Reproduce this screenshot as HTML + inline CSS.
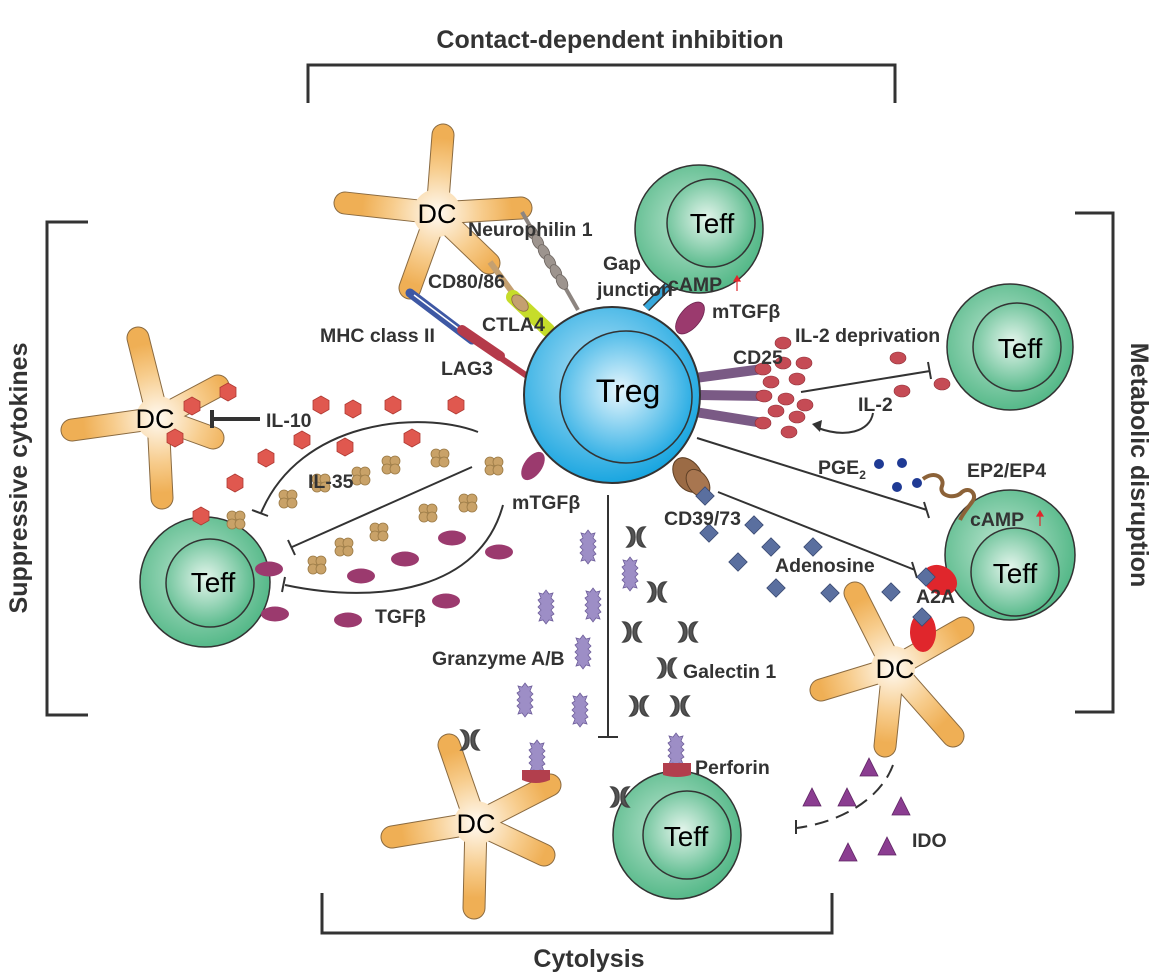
<!DOCTYPE html>
<html><head><meta charset="utf-8"><style>
html,body{margin:0;padding:0;background:#fff}
svg{display:block}
.b{font-family:"Liberation Sans",sans-serif;font-weight:bold;fill:#333;font-size:19.5px}
.n{font-family:"Liberation Sans",sans-serif;fill:#000}
</style></head><body>
<svg width="1160" height="978" viewBox="0 0 1160 978" xmlns="http://www.w3.org/2000/svg">
<defs>
<radialGradient id="dcg" cx="0" cy="0" r="75" gradientUnits="userSpaceOnUse">
<stop offset="0" stop-color="#fffaf2"/><stop offset="0.6" stop-color="#f7cc8c"/><stop offset="1" stop-color="#efaf55"/></radialGradient>
<radialGradient id="tg" cx="0.45" cy="0.45" r="0.6"><stop offset="0" stop-color="#bfe6d2"/><stop offset="1" stop-color="#4db583"/></radialGradient>
<radialGradient id="ti" cx="0.45" cy="0.45" r="0.6"><stop offset="0" stop-color="#e4f5ec"/><stop offset="1" stop-color="#4fb685"/></radialGradient>
<radialGradient id="rg" cx="0.45" cy="0.4" r="0.6"><stop offset="0" stop-color="#bfe6f8"/><stop offset="1" stop-color="#1aa6e0"/></radialGradient>
<radialGradient id="ri" cx="0.45" cy="0.45" r="0.6"><stop offset="0" stop-color="#e6f6fd"/><stop offset="1" stop-color="#1ea8e2"/></radialGradient>
<g id="hex"><polygon points="0,-9 8,-4.5 8,4.5 0,9 -8,4.5 -8,-4.5" fill="#e0584f" stroke="#b03a33" stroke-width="0.8"/></g>
<g id="tan"><g fill="#c9a268" stroke="#9b7a45" stroke-width="0.8"><circle cx="-4" cy="-4" r="5"/><circle cx="4" cy="-4" r="5"/><circle cx="-4" cy="4" r="5"/><circle cx="4" cy="4" r="5"/></g></g>
<g id="tgf"><ellipse rx="14" ry="7.5" fill="#9b3a6e"/></g>
<g id="il2"><ellipse rx="8" ry="6" fill="#c54b55" stroke="#8e2e36" stroke-width="0.6"/></g>
<g id="dia"><rect x="-6.5" y="-6.5" width="13" height="13" transform="rotate(45)" fill="#5a6f9f" stroke="#3a4a72" stroke-width="0.8"/></g>
<g id="gal"><path d="M-9,-10 Q0,0 -9,10 Q-1,10 -1,0 Q-1,-10 -9,-10Z M9,-10 Q0,0 9,10 Q1,10 1,0 Q1,-10 9,-10Z" fill="#555" stroke="#444" stroke-width="1.5"/></g>
<g id="grz"><polygon points="0,-17 3,-13 7,-14 5,-9 8,-6 5,-3 8,0 5,3 8,7 5,9 7,14 3,13 0,17 -3,13 -7,14 -5,9 -8,6 -5,3 -8,0 -5,-3 -8,-7 -5,-9 -7,-14 -3,-13" fill="#9d8ec6" stroke="#6e5e9a" stroke-width="0.8"/></g>
<g id="tri"><polygon points="0,-10 9,8 -9,8" fill="#8b3d91" stroke="#5e2463" stroke-width="0.8"/></g>
</defs>

<!-- brackets -->
<g fill="none" stroke="#333" stroke-width="3">
<path d="M308,103 V65 H895 V103"/>
<path d="M88,222 H47 V715 H88"/>
<path d="M1075,213 H1113 V712 H1075"/>
<path d="M322,893 V933 H832 V893"/>
</g>
<text class="b" x="610" y="48" text-anchor="middle" style="font-size:25px">Contact-dependent inhibition</text>
<text class="b" x="589" y="967" text-anchor="middle" style="font-size:25px">Cytolysis</text>
<text class="b" transform="translate(27,478) rotate(-90)" text-anchor="middle" style="font-size:25px">Suppressive cytokines</text>
<text class="b" transform="translate(1131,465) rotate(90)" text-anchor="middle" style="font-size:25px">Metabolic disruption</text>

<!-- DCs -->
<g transform="translate(437,213)">
<g stroke="#8a6a40" stroke-width="23" stroke-linecap="round" fill="none">
<path d="M0,0 L6,-78"/><path d="M0,0 L-92,-10"/><path d="M0,0 L84,-5"/><path d="M0,0 L52,50"/><path d="M0,0 L-27,75"/></g>
<g stroke="url(#dcg)" stroke-width="21" stroke-linecap="round" fill="none">
<path d="M0,0 L6,-78"/><path d="M0,0 L-92,-10"/><path d="M0,0 L84,-5"/><path d="M0,0 L52,50"/><path d="M0,0 L-27,75"/></g>
<circle r="24" fill="url(#dcg)"/>
<text class="n" x="0" y="10" text-anchor="middle" font-size="27">DC</text></g>

<g transform="translate(158,418)">
<g stroke="#8a6a40" stroke-width="23" stroke-linecap="round" fill="none">
<path d="M0,0 L-20,-80"/><path d="M0,0 L-86,12"/><path d="M0,0 L60,-32"/><path d="M0,0 L55,20"/><path d="M0,0 L4,80"/></g>
<g stroke="url(#dcg)" stroke-width="21" stroke-linecap="round" fill="none">
<path d="M0,0 L-20,-80"/><path d="M0,0 L-86,12"/><path d="M0,0 L60,-32"/><path d="M0,0 L55,20"/><path d="M0,0 L4,80"/></g>
<circle r="22" fill="url(#dcg)"/>
<text class="n" x="-3" y="10" text-anchor="middle" font-size="27">DC</text></g>

<g transform="translate(893,668)">
<g stroke="#8a6a40" stroke-width="23" stroke-linecap="round" fill="none">
<path d="M0,0 L-38,-75"/><path d="M0,0 L70,-40"/><path d="M0,0 L60,68"/><path d="M0,0 L-8,78"/><path d="M0,0 L-72,22"/></g>
<g stroke="url(#dcg)" stroke-width="21" stroke-linecap="round" fill="none">
<path d="M0,0 L-38,-75"/><path d="M0,0 L70,-40"/><path d="M0,0 L60,68"/><path d="M0,0 L-8,78"/><path d="M0,0 L-72,22"/></g>
<circle r="22" fill="url(#dcg)"/>
<text class="n" x="2" y="10" text-anchor="middle" font-size="27">DC</text></g>

<g transform="translate(476,823)">
<g stroke="#8a6a40" stroke-width="23" stroke-linecap="round" fill="none">
<path d="M0,0 L-27,-78"/><path d="M0,0 L74,-38"/><path d="M0,0 L-84,14"/><path d="M0,0 L68,32"/><path d="M0,0 L-2,85"/></g>
<g stroke="url(#dcg)" stroke-width="21" stroke-linecap="round" fill="none">
<path d="M0,0 L-27,-78"/><path d="M0,0 L74,-38"/><path d="M0,0 L-84,14"/><path d="M0,0 L68,32"/><path d="M0,0 L-2,85"/></g>
<circle r="22" fill="url(#dcg)"/>
<text class="n" x="0" y="10" text-anchor="middle" font-size="27">DC</text></g>

<!-- receptors top-left -->
<line x1="522" y1="212" x2="578" y2="310" stroke="#8d8580" stroke-width="4"/>
<g fill="#9d948e" stroke="#6d6560" stroke-width="0.8">
<ellipse cx="532" cy="232" rx="8" ry="5" transform="rotate(60 532 232)"/>
<ellipse cx="538" cy="242" rx="8" ry="5" transform="rotate(60 538 242)"/>
<ellipse cx="544" cy="252" rx="8" ry="5" transform="rotate(60 544 252)"/>
<ellipse cx="550" cy="262" rx="8" ry="5" transform="rotate(60 550 262)"/>
<ellipse cx="556" cy="272" rx="8" ry="5" transform="rotate(60 556 272)"/>
<ellipse cx="562" cy="282" rx="8" ry="5" transform="rotate(60 562 282)"/></g>
<line x1="490" y1="262" x2="518" y2="300" stroke="#c4a070" stroke-width="6"/>
<line x1="513" y1="297" x2="548" y2="330" stroke="#c6dc2a" stroke-width="14" stroke-linecap="round"/>
<ellipse cx="520" cy="303" rx="10" ry="6" transform="rotate(45 520 303)" fill="#c4a070" stroke="#8a6a40" stroke-width="0.8"/>
<line x1="410" y1="293" x2="472" y2="340" stroke="#3e58a4" stroke-width="9" stroke-linecap="round"/>
<line x1="414" y1="295" x2="470" y2="337" stroke="#fff" stroke-width="1.5"/>
<line x1="460" y1="330" x2="530" y2="378" stroke="#b53a4a" stroke-width="6"/>
<line x1="462" y1="330" x2="500" y2="356" stroke="#b53a4a" stroke-width="10" stroke-linecap="round"/>
<!-- gap junction -->
<line x1="646" y1="308" x2="676" y2="278" stroke="#333" stroke-width="9"/>
<line x1="646" y1="308" x2="676" y2="278" stroke="#37a8dc" stroke-width="6"/>
<ellipse cx="690" cy="318" rx="10" ry="19" transform="rotate(40 690 318)" fill="#9b3a6e" stroke="#6e2550" stroke-width="0.8"/>
<!-- CD25 bars -->
<g stroke="#7a5a85" stroke-width="10">
<line x1="695" y1="378" x2="763" y2="369"/><line x1="698" y1="395" x2="764" y2="396"/><line x1="695" y1="412" x2="763" y2="423"/></g>
<!-- CD39 -->
<ellipse cx="688" cy="475" rx="13" ry="19" transform="rotate(-35 688 475)" fill="#9b6b45" stroke="#5e3f25" stroke-width="1"/>
<ellipse cx="698" cy="483" rx="10" ry="15" transform="rotate(-35 698 483)" fill="#a87650" stroke="#5e3f25" stroke-width="1"/>
<ellipse cx="533" cy="466" rx="9" ry="16" transform="rotate(35 533 466)" fill="#9b3a6e"/>

<!-- Treg -->
<circle cx="612" cy="395" r="88" fill="url(#rg)" stroke="#333" stroke-width="2"/>
<circle cx="626" cy="397" r="66" fill="url(#ri)" stroke="#333" stroke-width="1.5"/>
<text class="n" x="628" y="402" text-anchor="middle" font-size="32" fill="#222">Treg</text>

<!-- Teffs -->
<g stroke="#333" stroke-width="1.5">
<circle cx="699" cy="229" r="64" fill="url(#tg)"/><circle cx="711" cy="223" r="44" fill="url(#ti)"/>
<circle cx="1010" cy="347" r="63" fill="url(#tg)"/><circle cx="1017" cy="347" r="44" fill="url(#ti)"/>
<circle cx="1010" cy="555" r="65" fill="url(#tg)"/><circle cx="1015" cy="572" r="44" fill="url(#ti)"/>
<circle cx="205" cy="582" r="65" fill="url(#tg)"/><circle cx="210" cy="583" r="44" fill="url(#ti)"/>
<circle cx="677" cy="835" r="64" fill="url(#tg)"/><circle cx="687" cy="835" r="44" fill="url(#ti)"/>
</g>
<g class="n" font-size="28" text-anchor="middle">
<text x="712" y="233">Teff</text><text x="1020" y="358">Teff</text><text x="1015" y="583">Teff</text><text x="213" y="592">Teff</text><text x="686" y="846">Teff</text></g>

<!-- cytokines left -->
<g fill="none" stroke="#333" stroke-width="2">
<path d="M260,419 H212 M212,410 V428" stroke-width="4"/>
<path d="M478,432 C420,410 300,420 261,513"/><path d="M252,510 L268,516"/>
<path d="M472,467 L292,547"/><path d="M288,540 L295,555"/>
<path d="M503,505 C480,590 380,605 285,585"/><path d="M285,577 L282,592"/>
</g>
<g>
<use href="#hex" x="228" y="392"/><use href="#hex" x="192" y="406"/><use href="#hex" x="175" y="438"/><use href="#hex" x="321" y="405"/><use href="#hex" x="353" y="409"/><use href="#hex" x="393" y="405"/><use href="#hex" x="456" y="405"/><use href="#hex" x="302" y="440"/><use href="#hex" x="345" y="447"/><use href="#hex" x="412" y="438"/><use href="#hex" x="266" y="458"/><use href="#hex" x="235" y="483"/><use href="#hex" x="201" y="516"/>
<use href="#tan" x="440" y="458"/><use href="#tan" x="494" y="466"/><use href="#tan" x="391" y="465"/><use href="#tan" x="361" y="476"/><use href="#tan" x="321" y="483"/><use href="#tan" x="288" y="499"/><use href="#tan" x="236" y="520"/><use href="#tan" x="468" y="503"/><use href="#tan" x="428" y="513"/><use href="#tan" x="379" y="532"/><use href="#tan" x="344" y="547"/><use href="#tan" x="317" y="565"/>
<use href="#tgf" x="452" y="538"/><use href="#tgf" x="499" y="552"/><use href="#tgf" x="405" y="559"/><use href="#tgf" x="361" y="576"/><use href="#tgf" x="269" y="569"/><use href="#tgf" x="275" y="614"/><use href="#tgf" x="348" y="620"/><use href="#tgf" x="446" y="601"/>
</g>

<!-- IL-2 -->
<g>
<use href="#il2" x="783" y="343"/><use href="#il2" x="783" y="363"/><use href="#il2" x="804" y="363"/><use href="#il2" x="763" y="369"/><use href="#il2" x="771" y="382"/><use href="#il2" x="797" y="379"/><use href="#il2" x="764" y="396"/><use href="#il2" x="786" y="399"/><use href="#il2" x="805" y="405"/><use href="#il2" x="776" y="411"/><use href="#il2" x="797" y="417"/><use href="#il2" x="763" y="423"/><use href="#il2" x="789" y="432"/><use href="#il2" x="898" y="358"/><use href="#il2" x="902" y="391"/><use href="#il2" x="942" y="384"/></g>
<g fill="none" stroke="#333" stroke-width="2">
<path d="M801,392 L930,371 M928,362 L931,379"/>
<path d="M873,413 C870,432 845,438 818,428"/>
<path d="M697,438 L927,510 M924,502 L929,518"/>
<path d="M718,492 L915,570 M912,562 L917,578"/>
<path d="M608,495 V737 M598,737 H618"/>
<path d="M893,765 C880,800 840,822 797,828 M796,820 V836" stroke-dasharray="14,8"/>
</g>
<polygon points="812,424 822,420 820,432" fill="#333"/>
<g fill="#1f3a94"><circle cx="879" cy="464" r="5"/><circle cx="902" cy="463" r="5"/><circle cx="897" cy="487" r="5"/><circle cx="917" cy="483" r="5"/></g>
<path d="M923,479 C935,470 945,478 942,486 C938,496 955,500 962,492 C970,486 978,495 972,502 C966,510 962,515 960,520" fill="none" stroke="#8c6238" stroke-width="4"/>

<!-- adenosine -->
<g><use href="#dia" x="705" y="496"/><use href="#dia" x="709" y="533"/><use href="#dia" x="754" y="525"/><use href="#dia" x="771" y="547"/><use href="#dia" x="813" y="547"/><use href="#dia" x="738" y="562"/><use href="#dia" x="776" y="588"/><use href="#dia" x="830" y="593"/><use href="#dia" x="891" y="592"/></g>
<ellipse cx="940" cy="580" rx="14" ry="18" transform="rotate(-60 940 580)" fill="#e0262c"/>
<ellipse cx="923" cy="632" rx="13" ry="20" fill="#e0262c"/>
<use href="#dia" x="926" y="577"/><use href="#dia" x="922" y="617"/>

<!-- galectin, granzyme -->
<g><use href="#gal" x="636" y="537"/><use href="#gal" x="657" y="592"/><use href="#gal" x="632" y="632"/><use href="#gal" x="688" y="632"/><use href="#gal" x="667" y="668"/><use href="#gal" x="639" y="706"/><use href="#gal" x="680" y="706"/><use href="#gal" x="470" y="740"/><use href="#gal" x="620" y="797"/></g>
<g><use href="#grz" x="588" y="547"/><use href="#grz" x="630" y="574"/><use href="#grz" x="546" y="607"/><use href="#grz" x="593" y="605"/><use href="#grz" x="583" y="652"/><use href="#grz" x="525" y="700"/><use href="#grz" x="580" y="710"/><use href="#grz" x="537" y="757"/><use href="#grz" x="676" y="750"/></g>
<path d="M522,770 h28 v10 q-14,6 -28,0Z" fill="#b23f4d"/>
<path d="M663,763 h28 v12 q-14,4 -28,0Z" fill="#b23f4d"/>
<g><use href="#tri" x="869" y="768"/><use href="#tri" x="812" y="798"/><use href="#tri" x="847" y="798"/><use href="#tri" x="901" y="807"/><use href="#tri" x="848" y="853"/><use href="#tri" x="887" y="847"/></g>

<!-- labels -->
<g class="b">
<text x="468" y="236">Neurophilin 1</text>
<text x="603" y="270">Gap</text><text x="597" y="296">junction</text>
<text x="668" y="291">cAMP</text>
<text x="712" y="318">mTGFβ</text>
<text x="428" y="288">CD80/86</text>
<text x="482" y="331">CTLA4</text>
<text x="320" y="342">MHC class II</text>
<text x="441" y="375">LAG3</text>
<text x="795" y="342">IL-2 deprivation</text>
<text x="733" y="364">CD25</text>
<text x="858" y="411">IL-2</text>
<text x="818" y="474">PGE<tspan style="font-size:12px" dy="5">2</tspan></text>
<text x="967" y="477">EP2/EP4</text>
<text x="970" y="526">cAMP</text>
<text x="664" y="525">CD39/73</text>
<text x="775" y="572">Adenosine</text>
<text x="916" y="603">A2A</text>
<text x="266" y="427">IL-10</text>
<text x="308" y="488">IL-35</text>
<text x="375" y="623">TGFβ</text>
<text x="512" y="509">mTGFβ</text>
<text x="432" y="665">Granzyme A/B</text>
<text x="683" y="678">Galectin 1</text>
<text x="695" y="774">Perforin</text>
<text x="912" y="847">IDO</text>
</g>
<g stroke="#e0262c" stroke-width="1.2" fill="#e0262c">
<line x1="737" y1="291" x2="737" y2="279"/><polygon points="734,281 740,281 737,276"/>
<line x1="1040" y1="526" x2="1040" y2="514"/><polygon points="1037,516 1043,516 1040,511"/>
</g>
</svg>
</body></html>
